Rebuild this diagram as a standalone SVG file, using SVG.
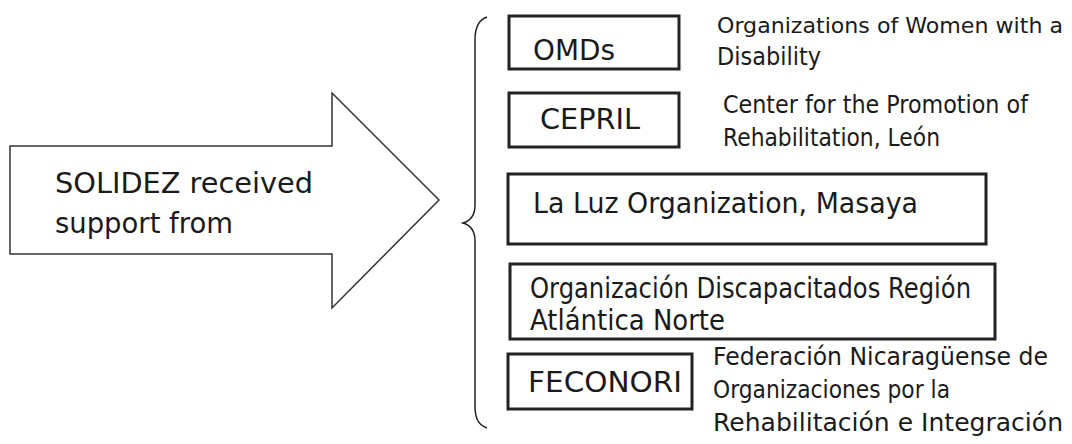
<svg xmlns="http://www.w3.org/2000/svg" width="1072" height="444" viewBox="0 0 1072 444">
<style>
text{font-family:"DejaVu Sans","Liberation Sans",sans-serif;fill:#1a1a1a}
.big{font-size:28px}
.small{font-size:24px}
.box{fill:#fff;stroke:#222;stroke-width:3}
.line{fill:none;stroke:#222;stroke-width:1.5}
</style>
<rect width="1072" height="444" fill="#fff"/>
<g id="source">
<polygon points="10,146 332,146 332,93 439,200 332,308 332,254 10,254" fill="#fff" stroke="#333" stroke-width="1.5"/>
<text class="big" x="55" y="193" textLength="258" lengthAdjust="spacingAndGlyphs">SOLIDEZ received</text>
<text class="big" x="55" y="233" textLength="178" lengthAdjust="spacingAndGlyphs">support from</text>
</g>
<g id="connectors">
<path class="line" d="M487,17 C478,20 475,28 475,40 L475,205 C475,215 470,221 463,223 C470,225 475,231 475,241 L475,405 C475,418 478,425 487,428"/>
</g>
<g id="omds">
<rect class="box" x="509" y="16" width="170" height="53"/>
<text class="big" x="533" y="60" textLength="82" lengthAdjust="spacingAndGlyphs">OMDs</text>
<text class="small" x="717" y="33" style="font-size:22px" textLength="346" lengthAdjust="spacingAndGlyphs">Organizations of Women with a</text>
<text class="small" x="717" y="65" textLength="104" lengthAdjust="spacingAndGlyphs">Disability</text>
</g>
<g id="cepril">
<rect class="box" x="509" y="93" width="170" height="54"/>
<text class="big" x="540" y="129" textLength="100" lengthAdjust="spacingAndGlyphs">CEPRIL</text>
<text class="small" x="723" y="113" textLength="305" lengthAdjust="spacingAndGlyphs">Center for the Promotion of</text>
<text class="small" x="723" y="146" textLength="217" lengthAdjust="spacingAndGlyphs">Rehabilitation, León</text>
</g>
<g id="laluz">
<rect class="box" x="508" y="174" width="478" height="70"/>
<text class="big" x="533" y="213" textLength="385" lengthAdjust="spacingAndGlyphs">La Luz Organization, Masaya</text>
</g>
<g id="odran">
<rect class="box" x="510" y="264" width="485" height="75"/>
<text class="big" x="530" y="298" textLength="441" lengthAdjust="spacingAndGlyphs">Organización Discapacitados Región</text>
<text class="big" x="530" y="330" textLength="195" lengthAdjust="spacingAndGlyphs">Atlántica Norte</text>
</g>
<g id="feconori">
<rect class="box" x="508" y="354" width="184" height="55"/>
<text class="big" x="528" y="392" textLength="154" lengthAdjust="spacingAndGlyphs">FECONORI</text>
<text class="small" x="713" y="365" textLength="335" lengthAdjust="spacingAndGlyphs">Federación Nicaragüense de</text>
<text class="small" x="713" y="398" textLength="237" lengthAdjust="spacingAndGlyphs">Organizaciones por la</text>
<text class="small" x="713" y="431" textLength="350" lengthAdjust="spacingAndGlyphs">Rehabilitación e Integración</text>
</g>
</svg>
